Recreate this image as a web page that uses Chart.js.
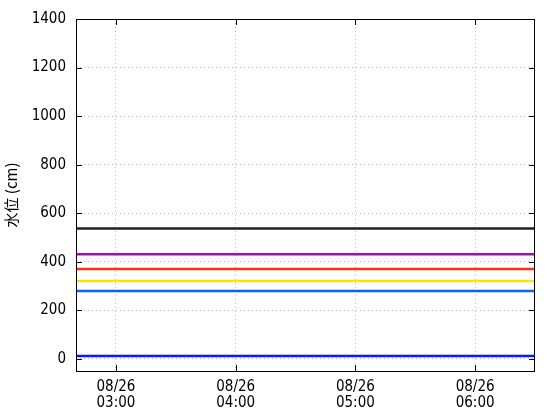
<!DOCTYPE html>
<html>
<head>
<meta charset="utf-8">
<script src="https://cdn.jsdelivr.net/npm/chart.js@4/dist/chart.umd.min.js"></script>
<style>
  html, body { margin: 0; padding: 0; background: #fff; }
  #wrap { width: 560px; height: 420px; }
</style>
</head>
<body>
<div id="wrap"><canvas id="myChart"></canvas></div>
<script>
// time in minutes after 00:00 on 08/26
const timeRange = [160, 390];
const timeTicks = [180, 240, 300, 360];
const dayLabel = "08/26";

const levelTicks = [0, 200, 400, 600, 800, 1000, 1200, 1400];
const levelRange = [-50, 1400];

// water level reference lines (cm)
const lineNames = ["black", "purple", "red", "yellow", "blue", "zero"];
const lineLevels = [537, 431, 370, 321, 280, 12];
const lineColors = ["#202020", "#a010b0", "#ff3010", "#f0e800", "#1060ff", "#0818ff"];

const FONT = "'DejaVu Sans Condensed', 'Noto Sans CJK JP', sans-serif";

function hhmm(m) {
  const h = Math.floor(m / 60), mm = m % 60;
  return String(h).padStart(2, "0") + ":" + String(mm).padStart(2, "0");
}

const datasets = lineLevels.map((lv, i) => ({
  label: lineNames[i],
  data: [{ x: timeRange[0], y: lv }, { x: timeRange[1], y: lv }],
  borderColor: lineColors[i],
  borderWidth: 2.5,
  pointRadius: 0,
  fill: false
}));

// frame + inward tick marks
const framePlugin = {
  id: "frame",
  afterDraw(chart) {
    const ctx = chart.ctx;
    const a = chart.chartArea;
    const xs = chart.scales.x, ys = chart.scales.y;
    ctx.save();
    ctx.strokeStyle = "#000";
    ctx.lineWidth = 1;
    ctx.strokeRect(a.left + 0.5, a.top + 0.5, a.right - a.left - 1, a.bottom - a.top);
    ctx.beginPath();
    timeTicks.forEach(t => {
      const px = Math.round(xs.getPixelForValue(t)) + 0.5;
      ctx.moveTo(px, a.bottom); ctx.lineTo(px, a.bottom - 6);
      ctx.moveTo(px, a.top); ctx.lineTo(px, a.top + 6);
    });
    levelTicks.forEach(v => {
      const py = Math.round(ys.getPixelForValue(v)) + 0.5;
      ctx.moveTo(a.left, py); ctx.lineTo(a.left + 6, py);
      ctx.moveTo(a.right, py); ctx.lineTo(a.right - 6, py);
    });
    ctx.stroke();
    ctx.restore();
  }
};

const ctx = document.getElementById("myChart").getContext("2d");
const myChart = new Chart(ctx, {
  type: "line",
  data: { datasets: datasets },
  plugins: [framePlugin],
  options: {
    responsive: true,
    maintainAspectRatio: false,
    animation: false,
    layout: { padding: { left: 0, right: 25, top: 16, bottom: 0 } },
    plugins: {
      legend: { display: false },
      tooltip: { enabled: false }
    },
    scales: {
      x: {
        type: "linear",
        min: timeRange[0],
        max: timeRange[1],
        afterBuildTicks: s => { s.ticks = timeTicks.map(v => ({ value: v })); },
        afterFit: s => { s.height = 49; },
        grid: {
          color: "#bdbdbd",
          lineWidth: 1,
          drawTicks: false
        },
        border: { display: false, dash: [1, 3] },
        ticks: {
          color: "#000",
          font: { family: FONT, size: 15, lineHeight: 1.07 },
          padding: 8,
          maxRotation: 0,
          autoSkip: false,
          callback: v => [dayLabel, hhmm(v)]
        }
      },
      y: {
        min: levelRange[0],
        max: levelRange[1],
        afterBuildTicks: s => { s.ticks = levelTicks.map(v => ({ value: v })); },
        afterFit: s => { s.width = 76; },
        grid: {
          color: "#bdbdbd",
          lineWidth: 1,
          drawTicks: false
        },
        border: { display: false, dash: [1, 3] },
        ticks: {
          color: "#000",
          font: { family: FONT, size: 15 },
          padding: 10,
          callback: v => String(v)
        },
        title: {
          display: true,
          text: "水位 (cm)",
          color: "#000",
          font: { family: "'Noto Sans CJK JP', sans-serif", size: 15 },
          padding: { top: 2, bottom: 0 }
        }
      }
    }
  }
});
</script>
</body>
</html>
